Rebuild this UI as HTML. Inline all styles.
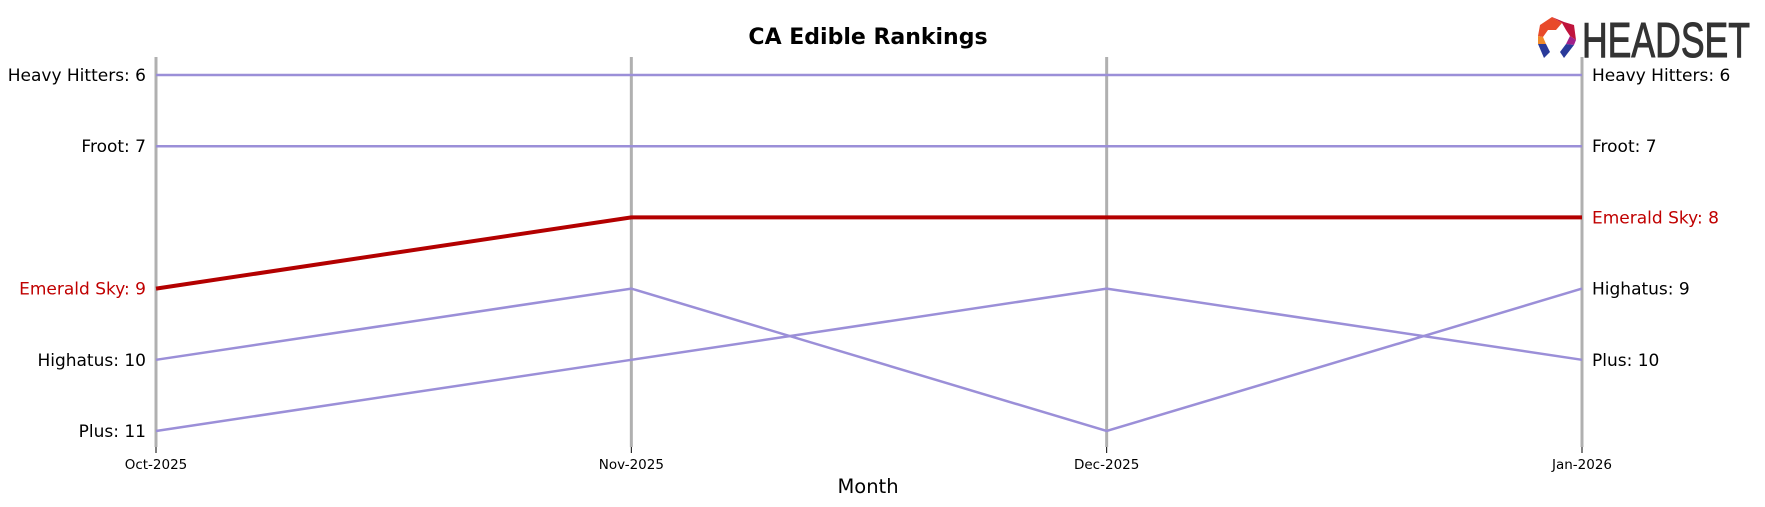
<!DOCTYPE html>
<html><head><meta charset="utf-8"><style>
body{margin:0;background:#fff;font-family:"DejaVu Sans","Liberation Sans",sans-serif}
svg{display:block}
</style></head><body>
<svg id="chart" width="1765" height="507" viewBox="0 0 1765 507" xmlns="http://www.w3.org/2000/svg">
<text x="868" y="44" text-anchor="middle" font-size="22" font-weight="bold" fill="#000">CA Edible Rankings</text>
<g>
<polygon points="1540,25 1552,17 1562,23 1556,30 1548,30 1543,37 1538,36" fill="#e84a2a"/>
<polygon points="1552,17 1564,22 1574,25 1576,40 1570,36 1566,30 1562,23" fill="#c0143c"/>
<polygon points="1538,36 1543,37 1546,44 1538,44" fill="#f08a2a"/>
<polygon points="1570,36 1576,40 1574,45 1566,44" fill="#a0208a"/>
<polygon points="1538,44 1546,44 1550,52 1544,58" fill="#2a3a9a"/>
<polygon points="1566,44 1574,45 1564,58 1560,52" fill="#2a3a9a"/>
<text x="1582" y="57" font-family="Liberation Sans,sans-serif" font-size="49" fill="#333" stroke="#333" stroke-width="1" textLength="168" lengthAdjust="spacingAndGlyphs">HEADSET</text>
</g>
<g id="axes"></g>
<g id="lines"></g>
<g id="labels"></g>
<text x="868" y="493" text-anchor="middle" font-size="19.5" fill="#000">Month</text>
</svg>
<script>
const months=["Oct-2025","Nov-2025","Dec-2025","Jan-2026"];
const brands=["Heavy Hitters","Froot","Emerald Sky","Highatus","Plus"];
const heavyHitters=[6,6,6,6];
const froot=[7,7,7,7];
const emeraldSky=[9,8,8,8];
const highatus=[10,9,11,9];
const plus=[11,10,9,10];
const series=[heavyHitters,froot,emeraldSky,highatus,plus];
const highlight="Emerald Sky";
const NS="http://www.w3.org/2000/svg";
const x=i=>156+i*(1582-156)/(months.length-1);
const y=r=>75+(r-6)*71.2;
function mk(t,a,p){const e=document.createElementNS(NS,t);for(const k in a)e.setAttribute(k,a[k]);p.appendChild(e);return e;}
const ax=document.getElementById('axes'),ln=document.getElementById('lines'),lb=document.getElementById('labels');
months.forEach((m,i)=>{
 const l=mk('line',{x1:x(i),x2:x(i),y1:57,y2:447,stroke:'#b0b0b0','stroke-width':3},ax);
 
 
 const tk=mk('line',{x1:x(i),x2:x(i),y1:447,y2:453,stroke:'#000','stroke-width':1},ax);
 
 
 const t=mk('text',{x:x(i),y:469,'text-anchor':'middle','font-size':13.5,fill:'#000'},ax);
 t.textContent=m;
 
 
});
const order=[0,1,3,4,2];
order.forEach(bi=>{
 const b=brands[bi],v=series[bi],hl=b===highlight;
 const col=hl?'#b30000':'#9b8fd8';
 const p=mk('polyline',{points:v.map((r,i)=>x(i)+','+y(r)).join(' '),fill:'none',stroke:col,'stroke-width':hl?4:2.5},ln);
 
 
 const tc=hl?'#c00000':'#000';
 const t1=mk('text',{x:146,y:y(v[0])+6,'text-anchor':'end','font-size':17,fill:tc},lb);
 t1.textContent=b+': '+v[0];
 
 
 const n=v.length-1;
 const t2=mk('text',{x:1592,y:y(v[n])+6,'text-anchor':'start','font-size':17,fill:tc},lb);
 t2.textContent=b+': '+v[n];
 
 
});
</script>
</body></html>
